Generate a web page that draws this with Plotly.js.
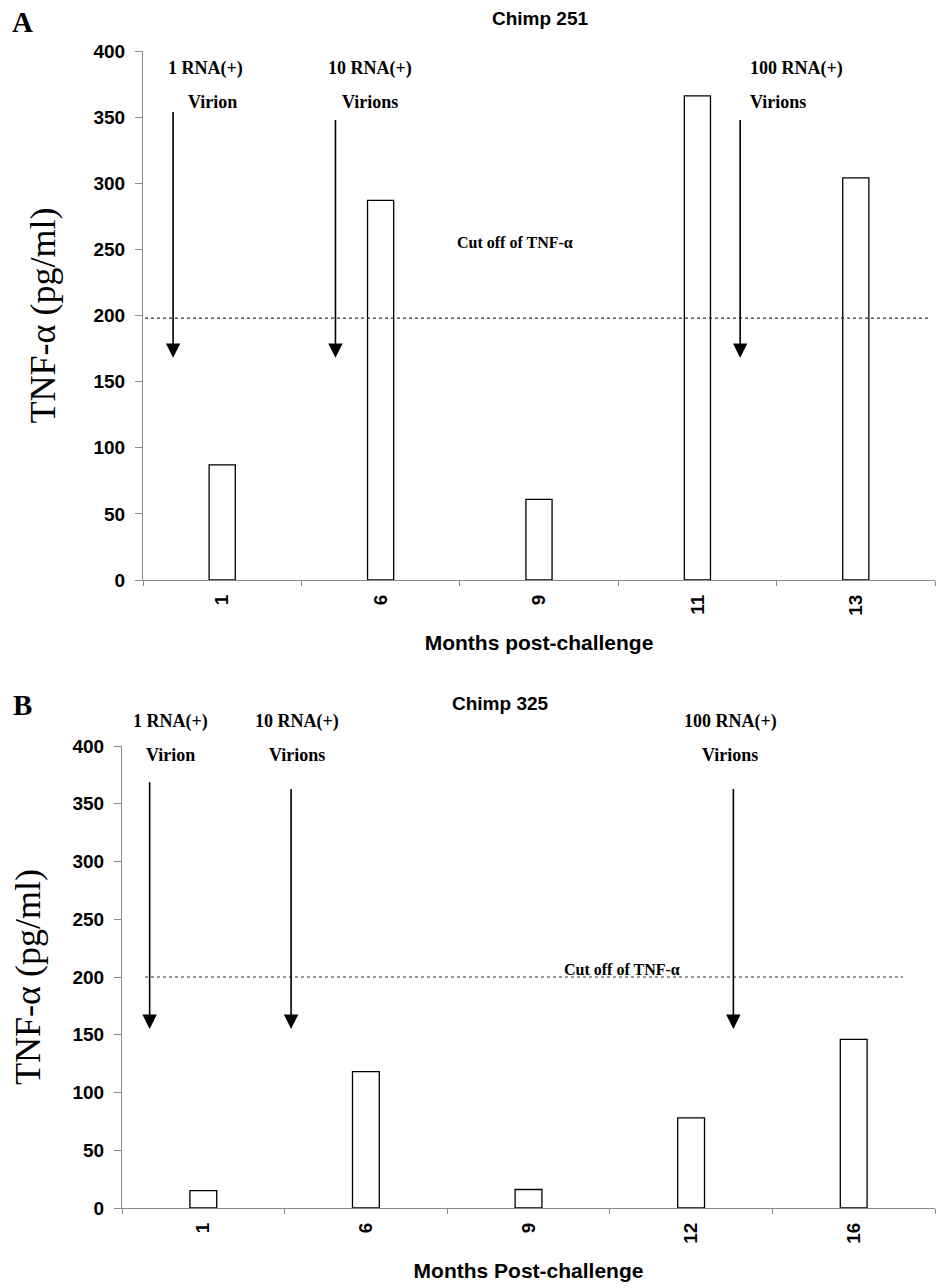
<!DOCTYPE html>
<html>
<head>
<meta charset="utf-8">
<script src="https://cdn.plot.ly/plotly-3.0.1.min.js"></script>
<style>html,body{margin:0;padding:0;background:#fff;}#chart{width:948px;height:1288px;}</style>
</head>
<body>
<div id="chart"></div>
<script>
// ---- Data ----
const monthsA = ["1", "6", "9", "11", "13"];
const tnfA = [87, 287, 61, 366, 304];
const monthsB = ["1", "6", "9", "12", "16"];
const tnfB = [15, 118, 16, 78, 146];
const cutoffA = 198;
const cutoffB = 200;
const doseLabels = ["1 RNA(+)", "10 RNA(+)", "100 RNA(+)"];
const doseSubLabels = ["Virion", "Virions", "Virions"];
// arrows: category-index position, tail value, head value
const arrowXA = [-0.31, 0.715, 3.27];
const arrowTopA = [355, 349, 349];
const arrowTipA = [168, 168, 168];
const arrowXB = [-0.33, 0.54, 3.26];
const arrowTopB = [370, 364, 364];
const arrowTipB = [155, 155, 155];
const cutoffText = "Cut off of TNF-α";

const W = 948, H = 1288;
const px = v => v / W;
const py = v => 1 - v / H;

const sans = "Liberation Sans, Arial, sans-serif";
const serif = "Liberation Serif, Times New Roman, serif";

const barStyle = {color: "#ffffff", line: {color: "#000000", width: 1.3}};

const traces = [
  {type: "bar", x: monthsA, y: tnfA, marker: barStyle, xaxis: "x", yaxis: "y", hoverinfo: "x+y", showlegend: false},
  {type: "bar", x: monthsB, y: tnfB, marker: barStyle, xaxis: "x2", yaxis: "y2", hoverinfo: "x+y", showlegend: false}
];

function yax(domain, anchor, standoff) {
  return {
    domain: domain, anchor: anchor, range: [0, 400], dtick: 50,
    showgrid: false, zeroline: false, showline: true, linecolor: "#8a8a8a", linewidth: 1,
    ticks: "outside", ticklen: 7, tickcolor: "#8a8a8a", ticklabelstandoff: 6,
    tickfont: {family: sans, size: 19, color: "#000", weight: "bold"},
    title: {text: "TNF-α (pg/ml)", font: {family: serif, size: 36, color: "#000"}, standoff: standoff},
    fixedrange: true
  };
}
function xax(domain, anchor, title) {
  return {
    domain: domain, anchor: anchor, type: "category", range: [-0.5, 4.5],
    showgrid: false, zeroline: false, showline: true, linecolor: "#8a8a8a", linewidth: 1,
    ticks: "outside", ticklen: 5, tickcolor: "#8a8a8a", tickson: "boundaries",
    tickangle: -90, ticklabelstandoff: 6,
    tickfont: {family: sans, size: 19, color: "#000", weight: "bold"},
    title: {text: title, font: {family: sans, size: 21, color: "#000", weight: "bold"}, standoff: 20},
    fixedrange: true
  };
}

const annotations = [];
// Panel letters
annotations.push({xref: "paper", yref: "paper", x: px(22), y: py(22), text: "<b>A</b>", showarrow: false,
  font: {family: serif, size: 29, color: "#000"}, xanchor: "center", yanchor: "middle"});
annotations.push({xref: "paper", yref: "paper", x: px(22), y: py(705), text: "<b>B</b>", showarrow: false,
  font: {family: serif, size: 29, color: "#000"}, xanchor: "center", yanchor: "middle"});
// Panel B title
annotations.push({xref: "paper", yref: "paper", x: px(500), y: py(703), text: "<b>Chimp 325</b>", showarrow: false,
  font: {family: sans, size: 19, color: "#000"}, xanchor: "center", yanchor: "middle"});

// Dose labels
const labelPosA = [[205, 68, 212, 102], [370, 68, 370, 102], [796, 68, 778, 102]];
const labelPosB = [[170, 721, 170, 755], [297, 721, 297, 755], [730, 721, 730, 755]];
function addLabels(pos) {
  for (let i = 0; i < doseLabels.length; i++) {
    annotations.push({xref: "paper", yref: "paper", x: px(pos[i][0]), y: py(pos[i][1]), text: "<b>" + doseLabels[i] + "</b>",
      showarrow: false, font: {family: serif, size: 18, color: "#000"}, xanchor: "center", yanchor: "middle"});
    annotations.push({xref: "paper", yref: "paper", x: px(pos[i][2]), y: py(pos[i][3]), text: "<b>" + doseSubLabels[i] + "</b>",
      showarrow: false, font: {family: serif, size: 18, color: "#000"}, xanchor: "center", yanchor: "middle"});
  }
}
addLabels(labelPosA);
addLabels(labelPosB);

// Arrows
function addArrows(xs, tops, tips, xr, yr) {
  for (let i = 0; i < xs.length; i++) {
    annotations.push({xref: xr, yref: yr, axref: xr, ayref: yr, x: xs[i], y: tips[i], ax: xs[i], ay: tops[i],
      text: "", showarrow: true, arrowhead: 2, arrowsize: 1.8, arrowwidth: 1.6, arrowcolor: "#000", standoff: 0});
  }
}
addArrows(arrowXA, arrowTopA, arrowTipA, "x", "y");
addArrows(arrowXB, arrowTopB, arrowTipB, "x2", "y2");

// Cutoff labels
annotations.push({xref: "paper", yref: "paper", x: px(515), y: py(243), text: "<b>" + cutoffText + "</b>", showarrow: false,
  font: {family: serif, size: 16, color: "#000"}, xanchor: "center", yanchor: "middle"});
annotations.push({xref: "paper", yref: "paper", x: px(622), y: py(970), text: "<b>" + cutoffText + "</b>", showarrow: false,
  font: {family: serif, size: 16, color: "#000"}, xanchor: "center", yanchor: "middle"});

const shapes = [
  {type: "line", xref: "paper", yref: "y", x0: px(145), x1: px(928), y0: cutoffA, y1: cutoffA,
    line: {color: "#333", width: 1.2, dash: "dot"}},
  {type: "line", xref: "paper", yref: "y2", x0: px(145), x1: px(903), y0: cutoffB, y1: cutoffB,
    line: {color: "#333", width: 1.2, dash: "dot"}}
];

const layout = {
  width: W, height: H,
  margin: {l: 0, r: 0, t: 0, b: 0},
  paper_bgcolor: "#fff", plot_bgcolor: "#fff",
  showlegend: false,
  bargap: 0.835,
  title: {text: "<b>Chimp 251</b>", font: {family: sans, size: 19, color: "#000"}, x: px(540), xanchor: "center",
    y: py(18), yanchor: "middle", xref: "paper", yref: "paper"},
  xaxis: xax([px(143), px(935)], "y", "Months post-challenge"),
  yaxis: yax([py(580), py(51)], "x", 26),
  xaxis2: xax([px(122), px(935)], "y2", "Months Post-challenge"),
  yaxis2: yax([py(1208), py(746)], "x2", 20),
  annotations: annotations,
  shapes: shapes
};

Plotly.newPlot("chart", traces, layout, {displayModeBar: false, staticPlot: true});
</script>
</body>
</html>
